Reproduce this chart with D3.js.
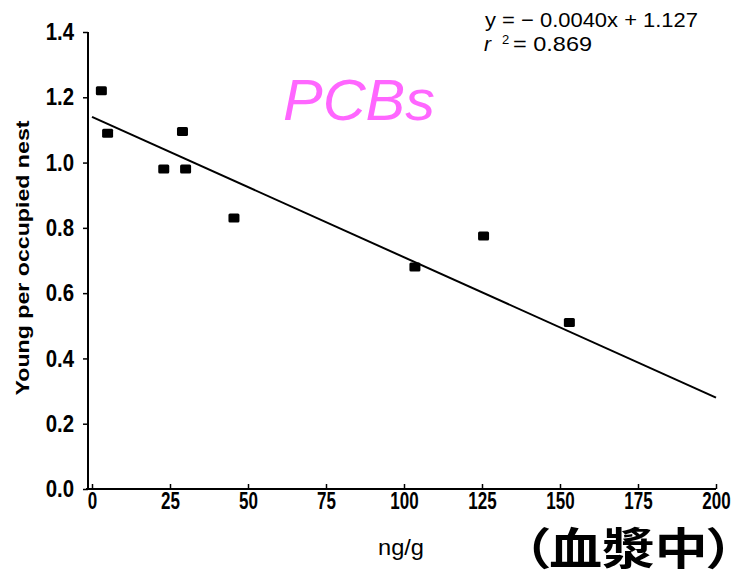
<!DOCTYPE html>
<html>
<head>
<meta charset="utf-8">
<script src="https://cdn.jsdelivr.net/npm/d3@7"></script>
<style>
  html, body { margin: 0; padding: 0; background: #fff; }
  svg { display: block; }
  .tick text { font-family: "Liberation Sans", Arial, sans-serif; font-weight: bold; }
</style>
</head>
<body>
<svg id="chart" width="737" height="578"></svg>
<script>
// ---- data ----
const pcbX = [3, 5, 23, 29, 30, 45.5, 103.5, 125.5, 153];
const youngY = [1.22, 1.09, 0.98, 1.095, 0.98, 0.83, 0.68, 0.775, 0.51];
const fitX = [0, 200];
const fitY = [1.14, 0.28];
const xTicks = [0, 25, 50, 75, 100, 125, 150, 175, 200];
const yTicks = [0.0, 0.2, 0.4, 0.6, 0.8, 1.0, 1.2, 1.4];
const equationLine = "y = \u2212 0.0040x + 1.127";
const r2Value = "0.869";
const yLabel = "Young per occupied nest";
const xLabel = "ng/g";
const titleText = "PCBs";
const noteText = "\uFF08\u8840\u6F3F\u4E2D\uFF09";

const svg = d3.select("#chart");
const x = d3.scaleLinear().domain([0, 200]).range([92, 716]);
const y = d3.scaleLinear().domain([0, 1.4]).range([489, 32]);

// axes
const kx = 0.74, ky = 0.85;
const xAxis = d3.axisBottom(x).tickValues(xTicks).tickSize(-5).tickPadding(4)
  .tickFormat(d3.format("d"));
const gx = svg.append("g").attr("transform", "translate(0,489)").call(xAxis);
gx.select(".domain").attr("stroke", "#000").attr("stroke-width", 2)
  .attr("d", "M86,0H" + x(200));
gx.selectAll(".tick line").attr("stroke-width", 1.5);
gx.selectAll(".tick text").attr("font-size", 23).attr("fill", "#000")
  .attr("transform", "scale(" + kx + ",1)");

const yAxis = d3.axisLeft(y).tickValues(yTicks).tickSize(5).tickPadding(9)
  .tickFormat(d3.format(".1f"));
const gy = svg.append("g").attr("transform", "translate(88,0)").call(yAxis);
gy.select(".domain").attr("stroke", "#000").attr("stroke-width", 2)
  .attr("d", "M0," + y(1.4) + "V" + y(0));
gy.selectAll(".tick line").attr("stroke-width", 1.5);
gy.selectAll(".tick text").attr("font-size", 24).attr("fill", "#000")
  .attr("x", -14 / ky)
  .attr("transform", "scale(" + ky + ",1)");

// regression line
const line = d3.line().x((d, i) => x(fitX[i])).y(d => y(d));
svg.append("path").datum(fitY).attr("d", line)
  .attr("fill", "none").attr("stroke", "#000").attr("stroke-width", 2);

// points
svg.append("g").selectAll("rect").data(pcbX).join("rect")
  .attr("x", (d) => x(d) - 5.5)
  .attr("y", (d, i) => y(youngY[i]) - 4.5)
  .attr("width", 11).attr("height", 9).attr("rx", 1.5)
  .attr("fill", "#000");

// y label
svg.append("text")
  .attr("transform", "translate(29,258) rotate(-90)")
  .attr("text-anchor", "middle")
  .attr("font-family", "'Liberation Sans', Arial, sans-serif")
  .attr("font-size", 19)
  .attr("font-weight", "bold")
  .attr("textLength", 275).attr("lengthAdjust", "spacingAndGlyphs")
  .text(yLabel);

// x label
svg.append("text")
  .attr("x", 401).attr("y", 555)
  .attr("text-anchor", "middle")
  .attr("font-family", "'Liberation Sans', Arial, sans-serif")
  .attr("font-size", 22)
  .attr("textLength", 46).attr("lengthAdjust", "spacingAndGlyphs")
  .text(xLabel);

// equation
const eq = svg.append("g")
  .attr("font-family", "'Liberation Sans', Arial, sans-serif")
  .attr("font-size", 21);
eq.append("text").attr("x", 485).attr("y", 27)
  .attr("textLength", 213).attr("lengthAdjust", "spacingAndGlyphs")
  .text(equationLine);
eq.append("text").attr("x", 484).attr("y", 51).attr("font-style", "italic").text("r");
eq.append("text").attr("x", 502).attr("y", 44).attr("font-size", 13).text("2");
eq.append("text").attr("x", 513).attr("y", 51)
  .attr("textLength", 79).attr("lengthAdjust", "spacingAndGlyphs")
  .text("= " + r2Value);

// PCBs title
svg.append("text")
  .attr("x", 283).attr("y", 120)
  .attr("font-family", "'Liberation Sans', Arial, sans-serif")
  .attr("font-style", "italic")
  .attr("font-size", 57)
  .attr("fill", "#ff66ff")
  .attr("textLength", 152).attr("lengthAdjust", "spacingAndGlyphs")
  .text(titleText);

// CJK note
const note = svg.append("text")
  .attr("x", 0).attr("y", 0)
  .attr("font-family", "'Noto Sans CJK TC', 'Noto Sans CJK SC', sans-serif")
  .attr("font-weight", "bold")
  .attr("font-size", 44)
  .style("font-feature-settings", "'palt'")
  .attr("fill", "#000")
  .text(noteText);
const nb = note.node().getBBox();
const sx = 1.2;
note.attr("transform", "translate(" + (734 - sx * (nb.x + nb.width)) + ",565) scale(" + sx + ",1)");
</script>
</body>
</html>
